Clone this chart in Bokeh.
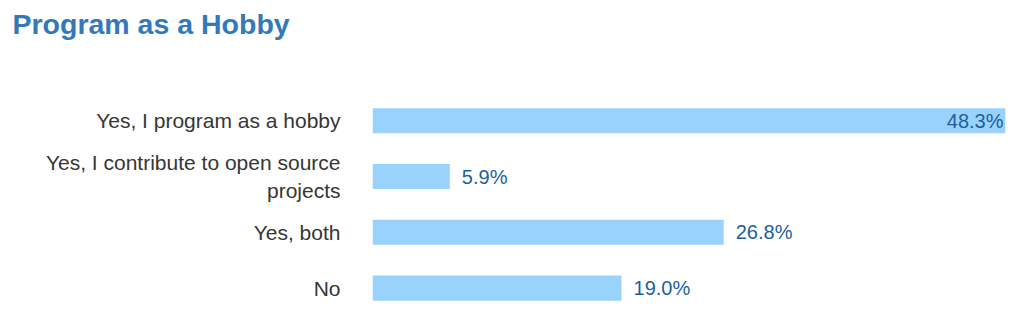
from bokeh.plotting import figure
from bokeh.models import ColumnDataSource, Range1d, FixedTicker
from bokeh.core.properties import value
from bokeh.embed import file_html
from bokeh.resources import INLINE

categories = ["Yes, I program as a hobby",
              "Yes, I contribute to open source\nprojects",
              "Yes, both",
              "No"]
percentages = [48.3, 5.9, 26.8, 19.0]

positions = list(range(len(categories)))
vmax = max(percentages)
labels = [f"{v:.1f}%" for v in percentages]
aligns = ["right" if v == vmax else "left" for v in percentages]
offsets = [-2 if v == vmax else 12 for v in percentages]

src = ColumnDataSource(dict(y=positions, v=percentages, lab=labels, al=aligns, off=offsets))

p = figure(width=1024, height=316, output_backend="svg", toolbar_location=None,
           x_range=Range1d(0, vmax), y_range=Range1d(3.509, -1.366),
           min_border_left=372, min_border_right=19, min_border_bottom=0, min_border_top=0)

p.title.text = "Program as a Hobby"
p.title.text_font = "Liberation Sans"
p.title.text_font_size = "28.5px"
p.title.text_font_style = "bold"
p.title.text_color = "#3379ba"
p.title.offset = -360

p.hbar(y="y", right="v", left=0, height=0.45, source=src,
       fill_color="#99d3fd", line_color=None)
p.text(x="v", y="y", text="lab", text_align="al", x_offset="off", source=src,
       text_baseline="middle", text_font=value("Liberation Sans"),
       text_font_size="20px", text_color="#1c5f9f")

p.xaxis.visible = False
p.yaxis.ticker = FixedTicker(ticks=positions)
p.yaxis.major_label_overrides = {i: c for i, c in zip(positions, categories)}
p.yaxis.axis_line_color = None
p.yaxis.major_tick_line_color = None
p.yaxis.minor_tick_line_color = None
p.yaxis.major_label_standoff = 26
p.yaxis.major_label_text_font = "Liberation Sans"
p.yaxis.major_label_text_font_size = "21px"
p.yaxis.major_label_text_color = "#363636"
p.xgrid.visible = False
p.ygrid.visible = False
p.outline_line_color = None

open("out.html", "w").write(file_html(p, INLINE))
